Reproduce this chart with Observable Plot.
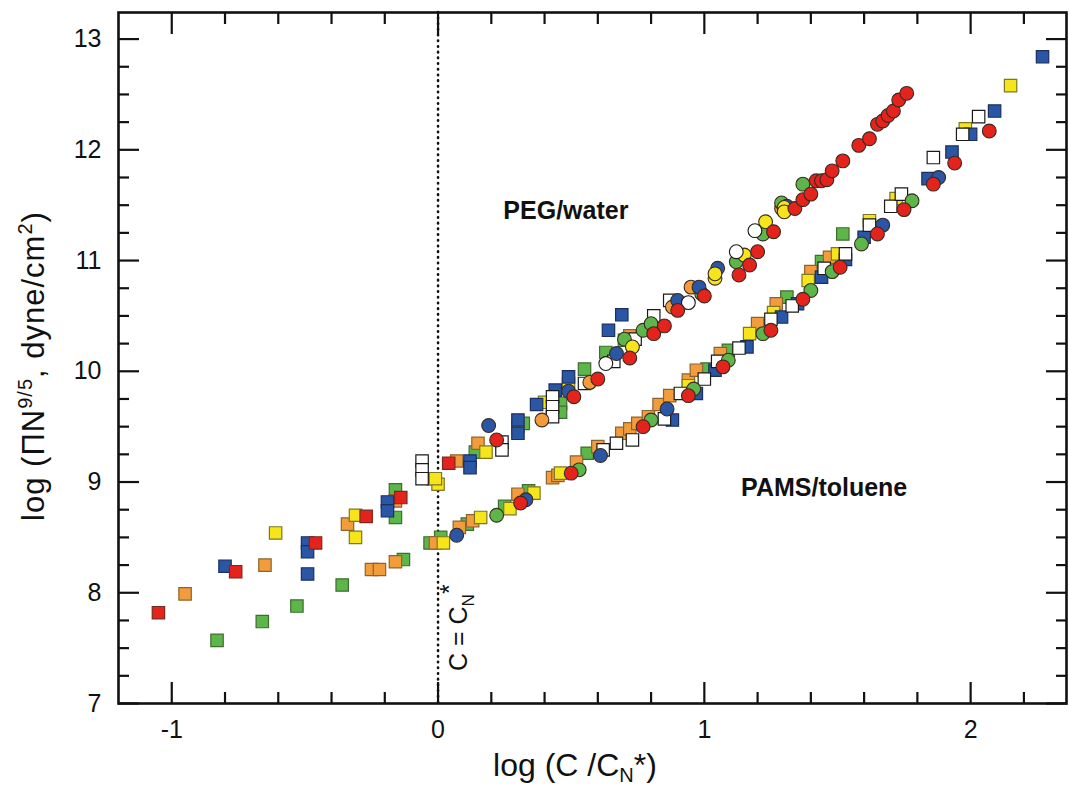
<!DOCTYPE html>
<html><head><meta charset="utf-8">
<script src="https://cdn.jsdelivr.net/npm/d3@7"></script>
<script src="https://cdn.jsdelivr.net/npm/@observablehq/plot@0.6"></script>
<style>body{margin:0;background:#fff}#chart svg{display:block}</style>
</head><body><div id="chart"></div>
<script>
// ---------- data: [log(C/CN*), log(Pi N^(9/5))] ----------
// PEG / water
const pegRedSq = [[-1.05,7.82],[-0.76,8.19],[-0.46,8.45],[-0.27,8.69],[-0.14,8.86],[0.04,9.17]];
const pegOrangeSq = [[-0.95,7.99],[-0.65,8.25],[-0.34,8.62],[-0.16,8.83],[-0.02,9.03],[0.07,9.19],[0.15,9.35],[0.72,10.32]];
const pegYellowSq = [[-0.61,8.54],[-0.31,8.70],[-0.31,8.50],[0.0,8.98],[-0.01,9.03],[0.18,9.27],[0.30,9.50],[0.40,9.72],[0.49,9.89]];
const pegGreenSq = [[-0.16,8.93],[-0.16,8.68],[0.14,9.27],[0.32,9.53],[0.46,9.71],[0.46,9.63],[0.55,10.02],[0.63,10.17],[0.70,10.28]];
const pegBlueSq = [[-0.80,8.24],[-0.49,8.45],[-0.49,8.37],[-0.49,8.17],[-0.19,8.82],[-0.19,8.74],[0.12,9.19],[0.12,9.13],[0.30,9.56],[0.30,9.44],[0.37,9.70],[0.44,9.83],[0.49,9.95],[0.64,10.37],[0.69,10.51]];
const pegOpenSq = [[-0.06,9.19],[-0.06,9.11],[-0.06,9.03],[0.24,9.36],[0.24,9.29],[0.43,9.77],[0.43,9.68],[0.43,9.59],[0.55,9.89],[0.66,10.09],[0.74,10.29],[0.81,10.50],[0.87,10.64]];
const pegRedCi = [[0.22,9.38],[0.51,9.77],[0.60,9.93],[0.72,10.12],[0.81,10.34],[0.85,10.41],[0.90,10.55],[1.00,10.68],[1.13,10.87],[1.17,10.96],[1.20,11.08],[1.26,11.26],[1.34,11.47],[1.37,11.55],[1.40,11.60],[1.42,11.72],[1.44,11.72],[1.46,11.73],[1.48,11.81],[1.52,11.90],[1.58,12.04],[1.62,12.10],[1.65,12.23],[1.67,12.26],[1.69,12.31],[1.71,12.35],[1.73,12.45],[1.76,12.51]];
const pegOrangeCi = [[0.39,9.56],[0.57,9.90],[0.88,10.58],[0.95,10.76],[1.29,11.47]];
const pegYellowCi = [[0.73,10.22],[1.04,10.84],[1.04,10.88],[1.15,11.05],[1.23,11.35],[1.30,11.48],[1.30,11.44]];
const pegGreenCi = [[0.70,10.29],[0.77,10.37],[0.80,10.43],[0.99,10.70],[1.12,10.99],[1.22,11.24],[1.29,11.52],[1.37,11.69]];
const pegBlueCi = [[0.19,9.51],[0.49,9.82],[0.67,10.16],[0.90,10.64],[0.98,10.76],[1.05,10.93],[1.31,11.49]];
const pegOpenCi = [[0.63,10.07],[0.94,10.62],[1.12,11.08],[1.19,11.27]];
// PAMS / toluene
const pamsGreenSq = [[-0.83,7.57],[-0.66,7.74],[-0.53,7.88],[-0.36,8.07],[-0.13,8.30],[-0.03,8.45],[0.01,8.50],[0.11,8.62],[0.25,8.78],[0.34,8.92],[0.56,9.26],[1.01,10.02],[1.09,10.19],[1.31,10.67],[1.44,10.99],[1.52,11.24]];
const pamsOrangeSq = [[-0.25,8.21],[-0.22,8.21],[-0.16,8.28],[-0.01,8.45],[0.08,8.59],[0.13,8.65],[0.30,8.89],[0.43,9.04],[0.45,9.06],[0.52,9.18],[0.60,9.32],[0.69,9.44],[0.72,9.48],[0.75,9.53],[0.79,9.59],[0.83,9.70],[0.87,9.78],[0.94,9.92],[0.97,10.01],[1.06,10.16],[1.20,10.43],[1.27,10.61],[1.40,10.90],[1.47,11.03]];
const pamsYellowSq = [[0.02,8.45],[0.16,8.68],[0.27,8.76],[0.36,8.90],[0.46,9.08],[0.94,9.87],[1.17,10.34],[1.26,10.53],[1.39,10.82],[1.50,11.06],[1.62,11.36],[1.72,11.56],[1.98,12.19],[2.15,12.58]];
const pamsBlueSq = [[0.88,9.56],[0.97,9.80],[1.04,10.01],[1.16,10.22],[1.29,10.49],[1.35,10.61],[1.44,10.85],[1.53,11.01],[1.60,11.21],[1.84,11.74],[1.93,11.98],[2.00,12.14],[2.09,12.35],[2.27,12.84]];
const pamsOpenSq = [[0.62,9.29],[0.67,9.35],[0.73,9.38],[0.85,9.57],[0.91,9.80],[1.00,9.93],[1.05,10.09],[1.13,10.21],[1.25,10.47],[1.33,10.59],[1.45,10.93],[1.53,11.06],[1.62,11.32],[1.70,11.49],[1.74,11.60],[1.86,11.93],[1.97,12.14],[2.03,12.30]];
const pamsRedCi = [[0.31,8.81],[0.50,9.08],[0.77,9.50],[0.94,9.78],[1.07,10.04],[1.25,10.37],[1.37,10.65],[1.51,10.94],[1.65,11.24],[1.75,11.46],[1.86,11.69],[1.94,11.88],[2.07,12.17]];
const pamsGreenCi = [[0.22,8.70],[0.53,9.11],[0.80,9.56],[0.96,9.84],[1.09,10.10],[1.22,10.34],[1.40,10.73],[1.48,10.90],[1.59,11.15],[1.78,11.54]];
const pamsBlueCi = [[0.07,8.52],[0.33,8.84],[0.61,9.24],[0.86,9.66],[1.67,11.32],[1.88,11.75]];

// tick values
const xMajor = [-1, 0, 1, 2];
const xMinor = [-0.8, -0.6, -0.4, -0.2, 0.2, 0.4, 0.6, 0.8, 1.2, 1.4, 1.6, 1.8, 2.2];
const yMajor = [7, 8, 9, 10, 11, 12, 13];
const yMinor = [7.25, 7.5, 7.75, 8.25, 8.5, 8.75, 9.25, 9.5, 9.75, 10.25, 10.5, 10.75, 11.25, 11.5, 11.75, 12.25, 12.5, 12.75];

const annotations = [
  {x: 0.48, y: 11.45, label: "PEG/water"},
  {x: 1.45, y: 8.95, label: "PAMS/toluene"}
];

// ---------- styling ----------
const palette = {red: "#e5231d", orange: "#f39c3c", yellow: "#f7e51c", green: "#5db64a", blue: "#2a56a6", open: "#ffffff"};
const edge = {red: "#7a2a1c", orange: "#8a6430", yellow: "#7d7626", green: "#3f6c2f", blue: "#1d2f5e", open: "#1a1a1a"};

const series = [
  ["PAMS", "green", "square", pamsGreenSq], ["PAMS", "orange", "square", pamsOrangeSq],
  ["PAMS", "yellow", "square", pamsYellowSq], ["PAMS", "blue", "square", pamsBlueSq],
  ["PEG", "green", "square", pegGreenSq], ["PEG", "orange", "square", pegOrangeSq],
  ["PEG", "yellow", "square", pegYellowSq], ["PEG", "blue", "square", pegBlueSq],
  ["PEG", "red", "square", pegRedSq],
  ["PAMS", "open", "square", pamsOpenSq], ["PEG", "open", "square", pegOpenSq],
  ["PAMS", "green", "circle", pamsGreenCi], ["PAMS", "blue", "circle", pamsBlueCi],
  ["PEG", "orange", "circle", pegOrangeCi], ["PEG", "green", "circle", pegGreenCi],
  ["PEG", "blue", "circle", pegBlueCi], ["PEG", "yellow", "circle", pegYellowCi],
  ["PEG", "open", "circle", pegOpenCi],
  ["PAMS", "red", "circle", pamsRedCi], ["PEG", "red", "circle", pegRedCi]
];
const rows = series.flatMap(([sys, color, shape, pts]) => pts.map(([x, y]) => ({sys, color, shape, x, y})));

const font = "'Liberation Sans', Arial, Helvetica, sans-serif";

const chart = Plot.plot({
  width: 1069, height: 787,
  marginLeft: 118, marginRight: 3, marginTop: 12, marginBottom: 84,
  style: {fontFamily: font, fontSize: "24px", color: "#111", background: "#fff"},
  x: {domain: [-1.2, 2.36]},
  y: {domain: [7, 13.24]},
  color: {type: "identity"},
  marks: [
    Plot.ruleX([0], {stroke: "#111", strokeWidth: 2.6, strokeDasharray: "0.5 5.2", strokeLinecap: "round"}),
    Plot.dot(rows, {
      filter: d => d.shape === "square",
      x: "x", y: "y", symbol: "square", r: 7,
      fill: d => palette[d.color], stroke: d => edge[d.color],
      strokeWidth: 1.2
    }),
    Plot.dot(rows, {
      filter: d => d.shape === "circle",
      x: "x", y: "y", symbol: "circle", r: 6.9,
      fill: d => palette[d.color], stroke: d => d.color === "open" ? "#1a1a1a" : "#3a2a20",
      strokeWidth: 1.1
    }),
    Plot.text(annotations, {x: "x", y: "y", text: "label", fontWeight: "bold", fontSize: 25, fill: "#111"}),
    // ticks (inward) on all four sides
    Plot.axisX(xMajor, {anchor: "bottom", tickSize: -21, strokeWidth: 2.2, tickFormat: () => "", label: null}),
    Plot.axisX(xMinor, {anchor: "bottom", tickSize: -11, strokeWidth: 2.2, tickFormat: () => "", label: null}),
    Plot.axisX(xMajor, {anchor: "top", tickSize: -21, strokeWidth: 2.2, tickFormat: () => "", label: null}),
    Plot.axisX(xMinor, {anchor: "top", tickSize: -11, strokeWidth: 2.2, tickFormat: () => "", label: null}),
    Plot.axisY(yMajor, {anchor: "left", tickSize: -21, strokeWidth: 2.2, tickFormat: () => "", label: null}),
    Plot.axisY(yMinor, {anchor: "left", tickSize: -11, strokeWidth: 2.2, tickFormat: () => "", label: null}),
    Plot.axisY(yMajor, {anchor: "right", tickSize: -21, strokeWidth: 2.2, tickFormat: () => "", label: null}),
    Plot.axisY(yMinor, {anchor: "right", tickSize: -11, strokeWidth: 2.2, tickFormat: () => "", label: null}),
    // tick labels
    Plot.axisX(xMajor, {anchor: "bottom", tickSize: 0, tickPadding: 17, fontSize: 25, tickFormat: d => String(d), label: null}),
    Plot.axisY(yMajor, {anchor: "left", tickSize: 0, tickPadding: 17, fontSize: 25, tickFormat: d => String(d), label: null}),
    Plot.frame({stroke: "#111", strokeWidth: 2.6})
  ]
});
document.getElementById("chart").appendChild(chart);

// rich-text axis titles and the C = CN* annotation
const svg = d3.select(chart);
const sx = chart.scale("x"), sy = chart.scale("y");
const g = svg.append("g").attr("font-family", font).attr("fill", "#111");

const xt = g.append("text").attr("x", 575).attr("y", 776).attr("text-anchor", "middle").attr("font-size", 32);
xt.append("tspan").text("log (C /C");
xt.append("tspan").attr("dy", 6).attr("font-size", 20).text("N");
xt.append("tspan").attr("dy", -6).text("*)");

const yt = g.append("text").attr("transform", `translate(44,366) rotate(-90)`)
  .attr("text-anchor", "middle").attr("font-size", 31).attr("letter-spacing", 1);
yt.append("tspan").text("log (\u03A0N");
yt.append("tspan").attr("dy", -12).attr("font-size", 20).text("9/5");
yt.append("tspan").attr("dy", 12).text(", dyne/cm");
yt.append("tspan").attr("dy", -12).attr("font-size", 20).text("2");
yt.append("tspan").attr("dy", 12).text(")");

const ct = g.append("text").attr("transform", `translate(${sx.apply(0) + 29},${sy.apply(7.68)}) rotate(-90)`)
  .attr("text-anchor", "middle").attr("font-size", 25);
ct.append("tspan").text("C = C");
ct.append("tspan").attr("dy", 7).attr("font-size", 17).text("N");
ct.append("tspan").attr("dy", -16).attr("font-size", 25).text("*");
</script>
</body></html>
